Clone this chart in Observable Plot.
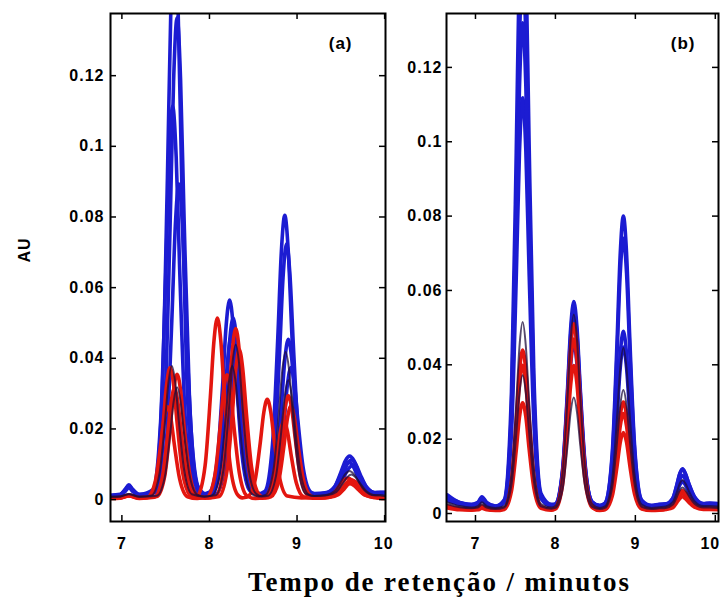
<!DOCTYPE html>
<html>
<head>
<meta charset="utf-8">
<script src="https://cdn.jsdelivr.net/npm/d3@7"></script>
<script src="https://cdn.jsdelivr.net/npm/@observablehq/plot@0.6"></script>
<style>
  html, body { margin: 0; padding: 0; background: #fff; }
  #wrap { position: relative; width: 723px; height: 605px; overflow: hidden; background: #fff; }
  #pa, #pb { position: absolute; top: 0; }
  #pa { left: 0; }
  #pb { left: 390px; }
  #pa svg, #pb svg { overflow: visible; }
  #ylab { position: absolute; left: 25px; top: 250px; transform: translate(-50%, -50%) rotate(-90deg);
          font: bold 16px "Liberation Sans", Arial, sans-serif; letter-spacing: 1px; color: #000; white-space: nowrap; }
  #xlab { position: absolute; left: 248px; top: 569px; font: bold 27px "Liberation Serif", "Times New Roman", serif;
          letter-spacing: 1.9px; line-height: 27px; color: #000; white-space: nowrap; }
</style>
</head>
<body>
<div id="wrap">
  <div id="pa"></div>
  <div id="pb"></div>
  <div id="ylab">AU</div>
  <div id="xlab">Tempo de retenção / minutos</div>
</div>
<script>
// ---------- tick labels ----------
const xTicks = [7, 8, 9, 10];
const xTickLabels = ["7", "8", "9", "10"];
const yTicks = [0, 0.02, 0.04, 0.06, 0.08, 0.1, 0.12];
const yTickLabels = ["0", "0.02", "0.04", "0.06", "0.08", "0.1", "0.12"];
const panelLabels = ["(a)", "(b)"];

// ---------- panel (a): unaligned chromatograms (time in minutes, absorbance AU) ----------
const aBlue1X = [6.85,6.98,7.04,7.08,7.12,7.2, 7.37,7.46,7.52,7.56,7.60,7.64,7.68,7.74,7.83, 7.92, 8.00,8.09,8.15,8.19,8.23,8.27,8.31,8.37,8.46, 8.545, 8.63,8.72,8.78,8.82,8.86,8.90,8.94,9.00,9.09, 9.2, 9.32,9.43,9.50,9.55,9.60,9.65,9.70,9.77,9.88, 9.95,10.0];
const aBlue1Y = [0.0012,0.0015,0.003,0.0042,0.003,0.0015, 0.0031,0.0303,0.0911,0.1399,0.1615,0.1407,0.0943,0.0351,0.0047, 0.0016, 0.0021,0.0114,0.0323,0.0491,0.0565,0.0494,0.0334,0.0131,0.0026, 0.0016, 0.0023,0.0157,0.0457,0.0698,0.0805,0.0702,0.0473,0.0181,0.0031, 0.0017, 0.0019,0.0037,0.0077,0.0109,0.0123,0.011,0.0079,0.004,0.002, 0.0021,0.0021];

const aBlue2X = [6.85,6.98,7.04,7.08,7.12,7.2, 7.40,7.49,7.55,7.59,7.63,7.67,7.71,7.77,7.86, 7.95, 8.04,8.13,8.19,8.23,8.27,8.31,8.35,8.41,8.50, 8.575, 8.65,8.74,8.80,8.84,8.88,8.92,8.96,9.02,9.11, 9.2, 9.34,9.45,9.52,9.57,9.62,9.67,9.72,9.79,9.90, 9.95,10.0];
const aBlue2Y = [0.0011,0.0014,0.0028,0.004,0.0028,0.0014, 0.0028,0.0257,0.077,0.1182,0.1364,0.1189,0.0797,0.0298,0.0041, 0.0015, 0.0019,0.0104,0.0294,0.0447,0.0514,0.0449,0.0304,0.0119,0.0024, 0.0015, 0.0021,0.0142,0.0412,0.0628,0.0724,0.0632,0.0426,0.0163,0.0028, 0.0016, 0.0018,0.0034,0.007,0.0099,0.0112,0.01,0.0072,0.0037,0.0019, 0.002,0.002];

const aBlue3X = [6.85,6.98,7.04,7.08,7.12,7.2, 7.35,7.44,7.50,7.54,7.58,7.62,7.66,7.72,7.81, 7.915, 8.02,8.11,8.17,8.21,8.25,8.29,8.33,8.39,8.48, 8.575, 8.67,8.76,8.82,8.86,8.90,8.94,8.98,9.04,9.13, 9.2, 9.31,9.42,9.49,9.54,9.59,9.64,9.69,9.76,9.87, 9.95,10.0];
const aBlue3Y = [0.001,0.0013,0.0026,0.0038,0.0026,0.0013, 0.0024,0.0211,0.0629,0.0965,0.1113,0.097,0.0651,0.0244,0.0035, 0.0014, 0.0018,0.0094,0.0265,0.0402,0.0463,0.0405,0.0274,0.0108,0.0022, 0.0014, 0.0018,0.0092,0.026,0.0394,0.0454,0.0397,0.0269,0.0106,0.0022, 0.0015, 0.0017,0.0032,0.0066,0.0094,0.0106,0.0094,0.0068,0.0035,0.0018, 0.0019,0.0019];

const aBlue4X = [6.85,6.98,7.04,7.08,7.12,7.2, 7.42,7.51,7.57,7.61,7.65,7.69,7.73,7.79,7.88, 7.98, 8.08,8.17,8.23,8.27,8.31,8.35,8.39,8.45,8.54, 8.62, 8.70,8.79,8.85,8.89,8.93,8.97,9.01,9.07,9.16, 9.24, 9.35,9.46,9.53,9.58,9.63,9.68,9.73,9.80,9.91, 9.96,10.0];
const aBlue4Y = [0.001,0.0012,0.0024,0.0034,0.0024,0.0013, 0.0022,0.0171,0.0506,0.0774,0.0893,0.0779,0.0523,0.0198,0.0031, 0.0014, 0.0017,0.0085,0.0237,0.036,0.0413,0.0361,0.0245,0.0097,0.0021, 0.0014, 0.0017,0.0079,0.0215,0.0325,0.0374,0.0327,0.0223,0.009,0.0021, 0.0015, 0.0017,0.003,0.0061,0.0085,0.0096,0.0086,0.0062,0.0033,0.0018, 0.0019,0.0019];

const aRed1X = [6.85,6.98,7.08,7.2, 7.32,7.41,7.47,7.51,7.55,7.59,7.63,7.69,7.78, 7.82, 7.86,7.95,8.01,8.05,8.09,8.13,8.17,8.23,8.32, 8.375, 8.43,8.52,8.58,8.62,8.66,8.70,8.74,8.80,8.89, 9.05, 9.30,9.41,9.48,9.53,9.58,9.63,9.68,9.75,9.86, 9.95,10.0];
const aRed1Y = [0.0005,0.0005,0.0012,0.0005, 0.0008,0.0071,0.0211,0.0324,0.0374,0.0326,0.0219,0.0082,0.0011, 0.0005, 0.0009,0.0096,0.029,0.0445,0.0514,0.0448,0.03,0.0111,0.0014, 0.0005, 0.0007,0.0054,0.0161,0.0246,0.0284,0.0248,0.0166,0.0063,0.001, 0.0005, 0.0007,0.0016,0.0037,0.0054,0.0061,0.0054,0.0038,0.0018,0.0007, 0.0005,0.0004];

const aRed2X = [6.85,6.98,7.08,7.2, 7.37,7.46,7.52,7.56,7.60,7.64,7.68,7.74,7.83, 7.95, 8.07,8.16,8.22,8.26,8.30,8.34,8.38,8.44,8.53, 8.6, 8.67,8.76,8.82,8.86,8.90,8.94,8.98,9.04,9.13, 9.2, 9.34,9.45,9.52,9.57,9.62,9.67,9.72,9.79,9.90, 9.95,10.0];
const aRed2Y = [0.0004,0.0005,0.0011,0.0004, 0.0007,0.006,0.0178,0.0272,0.0314,0.0274,0.0184,0.0069,0.001, 0.0004, 0.0009,0.009,0.0273,0.0419,0.0484,0.0422,0.0282,0.0105,0.0014, 0.0004, 0.0007,0.0056,0.0166,0.0255,0.0294,0.0256,0.0172,0.0065,0.001, 0.0005, 0.0007,0.0015,0.0034,0.0049,0.0056,0.005,0.0035,0.0017,0.0007, 0.0005,0.0004];

const aRed3X = [6.85,6.98,7.08,7.2, 7.29,7.38,7.44,7.48,7.52,7.56,7.60,7.66,7.75, 7.86, 7.97,8.06,8.12,8.16,8.20,8.24,8.28,8.34,8.43, 8.525, 8.62,8.71,8.77,8.81,8.85,8.89,8.93,8.99,9.08, 9.18, 9.32,9.43,9.50,9.55,9.60,9.65,9.70,9.77,9.88, 9.95,10.0];
const aRed3Y = [0.0003,0.0004,0.001,0.0003, 0.0006,0.005,0.0149,0.0228,0.0263,0.0229,0.0154,0.0058,0.0008, 0.0003, 0.0007,0.0066,0.0199,0.0306,0.0353,0.0308,0.0206,0.0077,0.001, 0.0003, 0.0005,0.0043,0.0126,0.0193,0.0223,0.0194,0.013,0.0049,0.0007, 0.0004, 0.0005,0.0012,0.0027,0.004,0.0045,0.004,0.0028,0.0013,0.0006, 0.0004,0.0003];

const aRed4X = [6.85,6.98,7.08,7.2, 7.40,7.49,7.55,7.59,7.63,7.67,7.71,7.77,7.86, 7.985, 8.11,8.20,8.26,8.30,8.34,8.38,8.42,8.48,8.57, 8.635, 8.70,8.79,8.85,8.89,8.93,8.97,9.01,9.07,9.16, 9.24, 9.36,9.47,9.54,9.59,9.64,9.69,9.74,9.81,9.92, 9.96,10.0];
const aRed4Y = [0.0005,0.0006,0.0012,0.0005, 0.0009,0.0068,0.0201,0.0308,0.0355,0.031,0.0208,0.0079,0.0012, 0.0005, 0.0009,0.0081,0.024,0.0368,0.0425,0.037,0.0249,0.0093,0.0013, 0.0005, 0.0008,0.0052,0.0151,0.023,0.0265,0.0231,0.0156,0.006,0.001, 0.0005, 0.0006,0.0014,0.0031,0.0045,0.0051,0.0045,0.0032,0.0015,0.0007, 0.0006,0.0005];

const aDark1X = [6.85,6.98,7.08,7.2, 7.34,7.43,7.49,7.53,7.57,7.61,7.65,7.71,7.80, 7.935, 8.07,8.16,8.22,8.26,8.30,8.34,8.38,8.44,8.53, 8.6, 8.67,8.76,8.82,8.86,8.90,8.94,8.98,9.04,9.13, 9.2, 9.32,9.43,9.50,9.55,9.60,9.65,9.70,9.77,9.88, 9.95,10.0];
const aDark1Y = [0.0008,0.0009,0.0016,0.0008, 0.0012,0.0075,0.0215,0.0328,0.0378,0.033,0.0223,0.0086,0.0015, 0.0009, 0.0012,0.0085,0.0249,0.038,0.0438,0.0382,0.0257,0.0098,0.0017, 0.0009, 0.0011,0.0067,0.0193,0.0293,0.0338,0.0295,0.0199,0.0077,0.0015, 0.001, 0.0012,0.0024,0.005,0.0072,0.0081,0.0072,0.0052,0.0026,0.0012, 0.0012,0.0011];

const aDark2X = [6.85,6.98,7.08,7.2, 7.40,7.49,7.55,7.59,7.63,7.67,7.71,7.77,7.86, 7.945, 8.03,8.12,8.18,8.22,8.26,8.30,8.34,8.40,8.49, 8.565, 8.64,8.73,8.79,8.83,8.87,8.91,8.95,9.01,9.10, 9.2, 9.34,9.45,9.52,9.57,9.62,9.67,9.72,9.79,9.90, 9.95,10.0];
const aDark2Y = [0.0008,0.0009,0.0015,0.0008, 0.0011,0.0064,0.0182,0.0276,0.0318,0.0278,0.0188,0.0073,0.0014, 0.0008, 0.0012,0.0075,0.0215,0.0328,0.0378,0.033,0.0223,0.0086,0.0015, 0.0009, 0.0013,0.0082,0.0238,0.0363,0.0418,0.0365,0.0246,0.0094,0.0016, 0.001, 0.0012,0.0022,0.0045,0.0063,0.0071,0.0063,0.0046,0.0024,0.0012, 0.0012,0.0011];

// ---------- panel (b): aligned chromatograms (shared time grid) ----------
const bTime = [6.65,6.8,6.95,7.03,7.08,7.14,7.25, 7.36,7.45,7.51,7.55,7.59,7.63,7.67,7.73,7.82, 7.95, 8.00,8.09,8.15,8.19,8.23,8.27,8.31,8.37,8.46, 8.555, 8.62,8.71,8.77,8.81,8.85,8.89,8.93,8.99,9.08, 9.2,9.3, 9.38,9.47,9.52,9.555,9.59,9.625,9.67,9.74,9.85, 9.93,10.04];
const bBlue1 = [0.005,0.003,0.0025,0.003,0.0045,0.003,0.002, 0.0037,0.0326,0.0972,0.149,0.172,0.150,0.1006,0.0377,0.0054, 0.0025, 0.00255,0.0119,0.0328,0.0496,0.057,0.0499,0.0339,0.0136,0.0031, 0.0022, 0.0028,0.016,0.0457,0.0695,0.080,0.0699,0.0472,0.0184,0.0036, 0.0022,0.0025, 0.0026,0.0042,0.0078,0.0107,0.012,0.0108,0.008,0.0045,0.0027, 0.0028,0.0027];
const bBlue2 = [0.004,0.0028,0.0022,0.0026,0.0038,0.0026,0.0018, 0.0034,0.0281,0.0832,0.1274,0.147,0.1282,0.0861,0.0325,0.0049, 0.0022, 0.0025,0.011,0.030,0.0453,0.052,0.0455,0.031,0.0125,0.003, 0.002, 0.0027,0.015,0.0423,0.0643,0.074,0.0646,0.0438,0.0171,0.0034, 0.002,0.0022, 0.0023,0.0036,0.0067,0.0091,0.0102,0.0092,0.0068,0.0039,0.0024, 0.0025,0.0024];
const bBlue3 = [0.0035,0.0025,0.002,0.0024,0.0034,0.0024,0.0017, 0.0029,0.0216,0.0634,0.097,0.1118,0.0975,0.0656,0.0249,0.004, 0.002, 0.0022,0.0097,0.0264,0.0399,0.0458,0.0401,0.0273,0.011,0.0027, 0.0019, 0.0022,0.0095,0.0259,0.039,0.0448,0.0392,0.0267,0.0108,0.0027, 0.0018,0.002, 0.0021,0.0032,0.0056,0.0076,0.0085,0.0077,0.0058,0.0034,0.0022, 0.0023,0.0022];
const bBlue4 = [0.0045,0.003,0.0022,0.0028,0.0042,0.0028,0.002, 0.0033,0.0254,0.0748,0.1144,0.132,0.1151,0.0774,0.0293,0.0046, 0.0023, 0.0025,0.0115,0.0317,0.0478,0.055,0.0481,0.0327,0.0131,0.0031, 0.0021, 0.0025,0.0105,0.0283,0.0427,0.049,0.0429,0.0293,0.0119,0.0029, 0.0021,0.0024, 0.0025,0.0041,0.0077,0.0106,0.0119,0.0107,0.0079,0.0044,0.0026, 0.0027,0.0026];
const bRed1 = [0.002,0.0013,0.0011,0.0014,0.002,0.0013,0.001, 0.0014,0.0087,0.0251,0.0382,0.044,0.0384,0.026,0.01,0.0019, 0.0011, 0.0015,0.01,0.029,0.0443,0.051,0.0445,0.03,0.0115,0.002, 0.001, 0.0013,0.0062,0.0172,0.0261,0.030,0.0262,0.0178,0.0071,0.0016, 0.001,0.0011, 0.0013,0.0021,0.004,0.0055,0.0062,0.0056,0.0041,0.0023,0.0013, 0.0014,0.0013];
const bRed2 = [0.0018,0.0012,0.001,0.0012,0.0017,0.0012,0.0009, 0.0013,0.0079,0.0227,0.0346,0.0399,0.0348,0.0235,0.0091,0.0017, 0.001, 0.0014,0.0092,0.0267,0.0407,0.0469,0.0409,0.0276,0.0106,0.0018, 0.0009, 0.0012,0.0056,0.0155,0.0234,0.0269,0.0235,0.016,0.0064,0.0014, 0.0009,0.001, 0.0012,0.0019,0.0035,0.0048,0.0054,0.0048,0.0036,0.002,0.0012, 0.0012,0.0012];
const bRed3 = [0.0015,0.001,0.0009,0.001,0.0014,0.001,0.0008, 0.0011,0.006,0.017,0.0259,0.0298,0.026,0.0176,0.0069,0.0014, 0.0009, 0.0012,0.0078,0.0226,0.0345,0.0398,0.0347,0.0234,0.009,0.0016, 0.0008, 0.001,0.0046,0.0126,0.019,0.0218,0.0191,0.013,0.0052,0.0012, 0.0008,0.0009, 0.0011,0.0016,0.003,0.004,0.0045,0.004,0.003,0.0017,0.0011, 0.0011,0.001];
const bDark1 = [0.003,0.002,0.0016,0.002,0.003,0.002,0.0015, 0.002,0.0105,0.0295,0.0448,0.0515,0.045,0.0305,0.012,0.0025, 0.0016, 0.002,0.0109,0.0306,0.0465,0.0535,0.0467,0.0317,0.0124,0.0025, 0.0015, 0.0019,0.0092,0.0256,0.0387,0.0445,0.0389,0.0264,0.0105,0.0024, 0.0015,0.0017, 0.0019,0.0031,0.0058,0.008,0.009,0.0081,0.006,0.0033,0.002, 0.002,0.0019];
const bDark2 = [0.0025,0.0017,0.0014,0.0016,0.0024,0.0016,0.0012, 0.0016,0.0077,0.0214,0.0323,0.0372,0.0325,0.0221,0.0088,0.0019, 0.0013, 0.0015,0.0066,0.018,0.0272,0.0312,0.0273,0.0186,0.0075,0.0018, 0.0012, 0.0015,0.007,0.0191,0.0289,0.0332,0.029,0.0198,0.0079,0.0018, 0.0012,0.0014, 0.0015,0.0024,0.0045,0.0062,0.007,0.0063,0.0047,0.0026,0.0016, 0.0016,0.0015];

// ---------- build tables ----------
function rows(id, xs, ys) {
  if (xs.length !== ys.length) console.error("length mismatch", id, xs.length, ys.length);
  return xs.map((t, i) => ({id, t, au: ys[i]}));
}
const aBlue = [...rows("ab1", aBlue1X, aBlue1Y), ...rows("ab2", aBlue2X, aBlue2Y), ...rows("ab3", aBlue3X, aBlue3Y), ...rows("ab4", aBlue4X, aBlue4Y)];
const aRed = [...rows("ar1", aRed1X, aRed1Y), ...rows("ar2", aRed2X, aRed2Y), ...rows("ar3", aRed3X, aRed3Y), ...rows("ar4", aRed4X, aRed4Y)];
const aDark = [...rows("ad1", aDark1X, aDark1Y), ...rows("ad2", aDark2X, aDark2Y)];
const bBlue = [...rows("bb1", bTime, bBlue1), ...rows("bb2", bTime, bBlue2), ...rows("bb3", bTime, bBlue3), ...rows("bb4", bTime, bBlue4)];
const bRed = [...rows("br1", bTime, bRed1), ...rows("br2", bTime, bRed2), ...rows("br3", bTime, bRed3)];
const bDark = [...rows("bd1", bTime, bDark1), ...rows("bd2", bTime, bDark2)];

const BLUE = "#1c1cd2", RED = "#e3160f", DARK = "#1e0c3c";

function panel({width, marginLeft, marginRight, xDomain, yDomain, blue, red, dark, label, labelDx, tickPad, lastDx}) {
  const H = 560, mt = 13, mb = 39;
  const fw = width - marginLeft - marginRight;
  const fh = H - mt - mb;
  const lineOpts = {x: "t", y: "au", z: "id", curve: "monotone-x", clip: true, strokeLinejoin: "round"};
  const xl = xTicks.map((v, i) => ({v, s: xTickLabels[i], last: i === xTicks.length - 1}));
  return Plot.plot({
    width, height: H, marginLeft, marginRight, marginTop: mt, marginBottom: mb,
    style: {fontFamily: "'Liberation Sans', Arial, sans-serif", fontSize: "16px", fontWeight: "bold", letterSpacing: "1px", color: "#000", background: "transparent", overflow: "visible"},
    x: {domain: xDomain, axis: null},
    y: {domain: yDomain, ticks: yTicks, tickSize: 0, tickPadding: tickPad, tickFormat: (d, i) => yTickLabels[i], label: null},
    marks: [
      Plot.line(blue, {...lineOpts, stroke: BLUE, strokeWidth: 3.6}),
      Plot.line(red, {...lineOpts, stroke: RED, strokeWidth: 3.6}),
      Plot.line(dark, {...lineOpts, stroke: DARK, strokeWidth: 2, strokeOpacity: 0.75}),
      Plot.tickX(xTicks, {x: d => d, insetTop: fh - 6, stroke: "#000", strokeWidth: 1.5}),
      Plot.tickX(xTicks, {x: d => d, insetBottom: fh - 6, stroke: "#000", strokeWidth: 1.5}),
      Plot.tickY(yTicks, {y: d => d, insetRight: fw - 6, stroke: "#000", strokeWidth: 1.5}),
      Plot.tickY(yTicks, {y: d => d, insetLeft: fw - 6, stroke: "#000", strokeWidth: 1.5}),
      Plot.frame({stroke: "#000", strokeWidth: 2}),
      Plot.text(xl.filter(d => !d.last), {x: "v", text: "s", frameAnchor: "bottom", lineAnchor: "top", dy: 16, fill: "#000"}),
      Plot.text(xl.filter(d => d.last), {x: "v", text: "s", frameAnchor: "bottom", lineAnchor: "top", dy: 16, dx: lastDx, fill: "#000"}),
      Plot.text([label], {frameAnchor: "top-right", dx: labelDx, dy: 23, text: d => d, fontSize: 17, fontWeight: "bold", textAnchor: "end", lineAnchor: "top", fill: "#000"})
    ]
  });
}

document.getElementById("pa").appendChild(panel({
  width: 390, marginLeft: 110, marginRight: 5,
  xDomain: [6.87, 10.01], yDomain: [-0.0062, 0.1376],
  blue: aBlue, red: aRed, dark: aDark, label: panelLabels[0], labelDx: -33, tickPad: 6, lastDx: -1
}));
document.getElementById("pb").appendChild(panel({
  width: 333, marginLeft: 56, marginRight: 5,
  xDomain: [6.6375, 10.04], yDomain: [-0.00215, 0.1345],
  blue: bBlue, red: bRed, dark: bDark, label: panelLabels[1], labelDx: -23, tickPad: 4, lastDx: -5
}));
</script>
</body>
</html>
